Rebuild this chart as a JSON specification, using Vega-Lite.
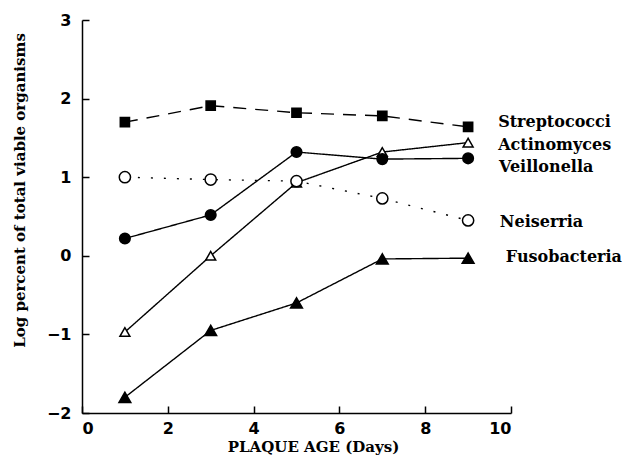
{
  "$schema": "https://vega.github.io/schema/vega-lite/v6.json",
  "width": 429,
  "height": 393,
  "autosize": {"type": "none"},
  "padding": {"left": 82, "top": 20, "right": 117, "bottom": 43},
  "background": "white",
  "config": {
    "view": {"stroke": null},
    "axis": {
      "grid": false,
      "domainColor": "black",
      "domainWidth": 1.5,
      "tickColor": "black",
      "tickWidth": 1.5,
      "labelColor": "black",
      "titleColor": "black",
      "labelFont": "DejaVu Sans",
      "labelFontSize": 16,
      "labelFontWeight": "bold",
      "titleFont": "DejaVu Serif",
      "titleFontSize": 15,
      "titleFontWeight": "bold"
    }
  },
  "datasets": {
    "obs": [
      {"series": "Streptococci", "day": 1, "value": 1.70},
      {"series": "Streptococci", "day": 3, "value": 1.91},
      {"series": "Streptococci", "day": 5, "value": 1.82},
      {"series": "Streptococci", "day": 7, "value": 1.78},
      {"series": "Streptococci", "day": 9, "value": 1.64},
      {"series": "Actinomyces", "day": 1, "value": -0.97},
      {"series": "Actinomyces", "day": 3, "value": 0.0},
      {"series": "Actinomyces", "day": 5, "value": 0.93},
      {"series": "Actinomyces", "day": 7, "value": 1.32},
      {"series": "Actinomyces", "day": 9, "value": 1.44},
      {"series": "Veillonella", "day": 1, "value": 0.22},
      {"series": "Veillonella", "day": 3, "value": 0.52},
      {"series": "Veillonella", "day": 5, "value": 1.32},
      {"series": "Veillonella", "day": 7, "value": 1.23},
      {"series": "Veillonella", "day": 9, "value": 1.24},
      {"series": "Neiserria", "day": 1, "value": 1.0},
      {"series": "Neiserria", "day": 3, "value": 0.97},
      {"series": "Neiserria", "day": 5, "value": 0.95},
      {"series": "Neiserria", "day": 7, "value": 0.73},
      {"series": "Neiserria", "day": 9, "value": 0.45},
      {"series": "Fusobacteria", "day": 1, "value": -1.80},
      {"series": "Fusobacteria", "day": 3, "value": -0.95},
      {"series": "Fusobacteria", "day": 5, "value": -0.60},
      {"series": "Fusobacteria", "day": 7, "value": -0.04},
      {"series": "Fusobacteria", "day": 9, "value": -0.03}
    ],
    "labels": [
      {"series": "Streptococci", "day": 9.7, "value": 1.70},
      {"series": "Actinomyces", "day": 9.7, "value": 1.41},
      {"series": "Veillonella", "day": 9.72, "value": 1.13},
      {"series": "Neiserria", "day": 9.74, "value": 0.43},
      {"series": "Fusobacteria", "day": 9.88, "value": -0.01}
    ]
  },
  "encoding": {
    "x": {
      "field": "day",
      "type": "quantitative",
      "scale": {"domain": [0, 10], "nice": false, "zero": false},
      "axis": {
        "title": "PLAQUE AGE (Days)",
        "values": [0, 2, 4, 6, 8, 10],
        "tickSize": -7,
        "labelPadding": 14,
        "titlePadding": 3,
        "titleX": 231
      }
    },
    "y": {
      "field": "value",
      "type": "quantitative",
      "scale": {"domain": [-2, 3], "nice": false, "zero": false},
      "axis": {
        "title": "Log percent of total viable organisms",
        "values": [-2, -1, 0, 1, 2, 3],
        "tickSize": -7,
        "labelPadding": 18,
        "titlePadding": 19,
        "titleY": 170
      }
    }
  },
  "layer": [
    {
      "data": {"name": "obs"},
      "mark": {"type": "line", "color": "black", "strokeWidth": 1.4},
      "encoding": {
        "detail": {"field": "series"},
        "strokeDash": {
          "field": "series",
          "type": "nominal",
          "scale": {
            "domain": ["Streptococci", "Actinomyces", "Veillonella", "Neiserria", "Fusobacteria"],
            "range": [[13, 9], [1, 0], [1, 0], [2, 11], [1, 0]]
          },
          "legend": null
        }
      }
    },
    {
      "data": {"name": "obs"},
      "mark": {"type": "point", "filled": true, "stroke": "black", "strokeWidth": 1.5, "opacity": 1},
      "encoding": {
        "shape": {
          "field": "series",
          "type": "nominal",
          "scale": {
            "domain": ["Streptococci", "Actinomyces", "Veillonella", "Neiserria", "Fusobacteria"],
            "range": ["square", "triangle-up", "circle", "circle", "triangle-up"]
          },
          "legend": null
        },
        "size": {
          "field": "series",
          "type": "nominal",
          "scale": {
            "domain": ["Streptococci", "Actinomyces", "Veillonella", "Neiserria", "Fusobacteria"],
            "range": [85, 140, 150, 150, 140]
          },
          "legend": null
        },
        "fill": {
          "field": "series",
          "type": "nominal",
          "scale": {
            "domain": ["Streptococci", "Actinomyces", "Veillonella", "Neiserria", "Fusobacteria"],
            "range": ["black", "white", "black", "white", "black"]
          },
          "legend": null
        }
      }
    },
    {
      "data": {"name": "labels"},
      "mark": {"type": "text", "align": "left", "baseline": "middle", "font": "DejaVu Serif", "fontSize": 16, "fontWeight": "bold", "color": "black", "clip": false},
      "encoding": {"text": {"field": "series"}}
    }
  ]
}
